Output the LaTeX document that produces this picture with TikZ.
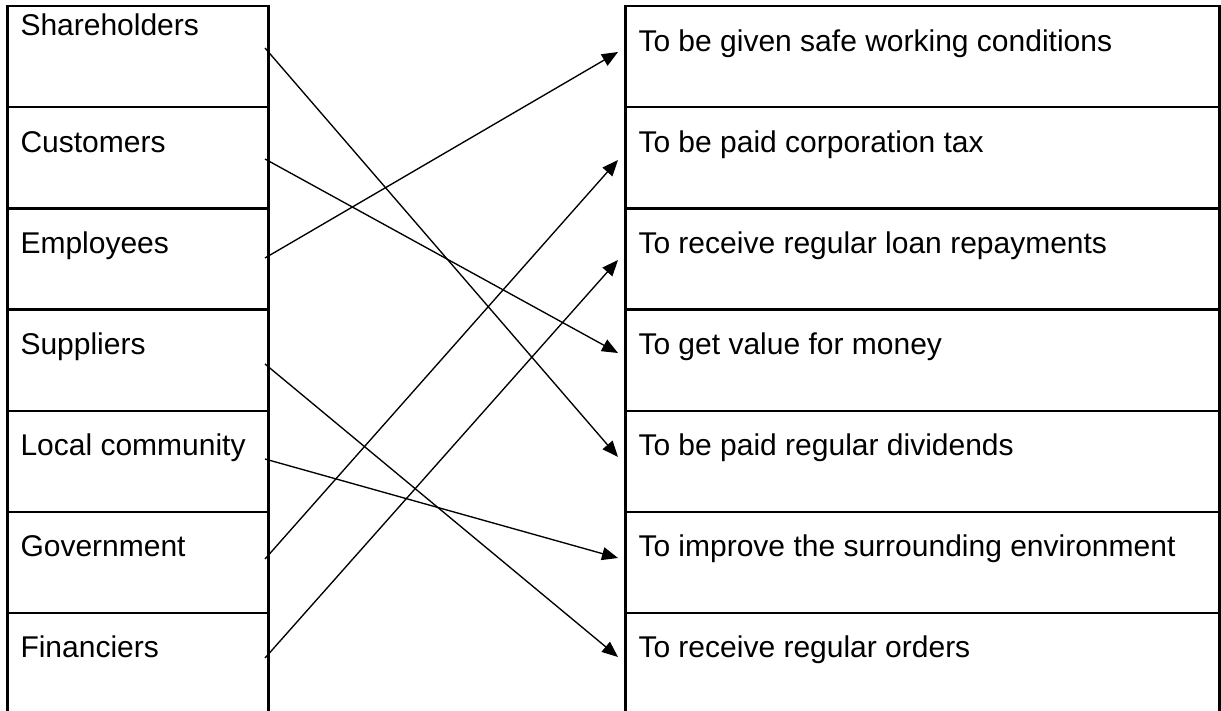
\documentclass[tikz,border=0pt]{standalone}
\usepackage{fontspec}
\setmainfont{Liberation Sans}
\usetikzlibrary{arrows.meta}
\tikzset{
  lcell/.style={draw=black, line width=2.2pt, minimum width=261pt, minimum height=101.1pt, inner sep=0pt, outer sep=0pt, anchor=north west},
  rcell/.style={draw=black, line width=2.2pt, minimum width=594pt, minimum height=101.1pt, inner sep=0pt, outer sep=0pt, anchor=north west},
  lbl/.style={inner sep=0pt, outer sep=0pt, anchor=base west, font=\fontsize{30pt}{34pt}\selectfont, text=black},
  link/.style={draw=black, line width=1.35pt, -{Triangle[length=16pt,width=13pt]}},
}
\begin{document}
\begin{tikzpicture}[x=1pt,y=-1pt]
\useasboundingbox (0,0) rectangle (1221,711);
\clip (0,0) rectangle (1221,711);
\fill[white] (0,0) rectangle (1221,711);
% left and right column cells
\foreach \i in {1,...,7} {
  \node[lcell] (L\i) at (7.5,{6.3+101.1*(\i-1)}) {};
  \node[rcell] (R\i) at (625.5,{6.3+101.1*(\i-1)}) {};
}
% left labels
\node[lbl] (tL1) at ([shift={(13,29)}]L1.north west) {Shareholders};
\node[lbl] (tL2) at ([shift={(13,45)}]L2.north west) {Customers};
\node[lbl] (tL3) at ([shift={(13,45)}]L3.north west) {Employees};
\node[lbl] (tL4) at ([shift={(13,45)}]L4.north west) {Suppliers};
\node[lbl] (tL5) at ([shift={(13,45)}]L5.north west) {Local community};
\node[lbl] (tL6) at ([shift={(13,45)}]L6.north west) {Government};
\node[lbl] (tL7) at ([shift={(13,45)}]L7.north west) {Financiers};
% right labels
\node[lbl] (tR1) at ([shift={(13,45)}]R1.north west) {To be given safe working conditions};
\node[lbl] (tR2) at ([shift={(13,45)}]R2.north west) {To be paid corporation tax};
\node[lbl] (tR3) at ([shift={(13,45)}]R3.north west) {To receive regular loan repayments};
\node[lbl] (tR4) at ([shift={(13,45)}]R4.north west) {To get value for money};
\node[lbl] (tR5) at ([shift={(13,45)}]R5.north west) {To be paid regular dividends};
\node[lbl] (tR6) at ([shift={(13,45)}]R6.north west) {To improve the surrounding environment};
\node[lbl] (tR7) at ([shift={(13,45)}]R7.north west) {To receive regular orders};
% connector end points
\coordinate (s1) at ([shift={(-3.5,41.7)}]L1.north east);
\coordinate (s2) at ([shift={(-3.5,51.6)}]L2.north east);
\coordinate (s3) at ([shift={(-3.5,49.5)}]L3.north east);
\coordinate (s4) at ([shift={(-3.5,54.4)}]L4.north east);
\coordinate (s5) at ([shift={(-3.5,48.3)}]L5.north east);
\coordinate (s6) at ([shift={(-3.5,47.2)}]L6.north east);
\coordinate (s7) at ([shift={(-3.5,45.1)}]L7.north east);
\coordinate (e1) at ([shift={(-7.5,45.7)}]R1.north west);
\coordinate (e2) at ([shift={(-7.5,52.6)}]R2.north west);
\coordinate (e3) at ([shift={(-7.5,51.5)}]R3.north west);
\coordinate (e4) at ([shift={(-7.5,43.4)}]R4.north west);
\coordinate (e5) at ([shift={(-7.5,46.3)}]R5.north west);
\coordinate (e6) at ([shift={(-7.5,46.2)}]R6.north west);
\coordinate (e7) at ([shift={(-7.5,44.1)}]R7.north west);
% connectors
\draw[link] (s1) -- (e5);
\draw[link] (s2) -- (e4);
\draw[link] (s3) -- (e1);
\draw[link] (s4) -- (e7);
\draw[link] (s5) -- (e6);
\draw[link] (s6) -- (e2);
\draw[link] (s7) -- (e3);
\end{tikzpicture}
\end{document}
